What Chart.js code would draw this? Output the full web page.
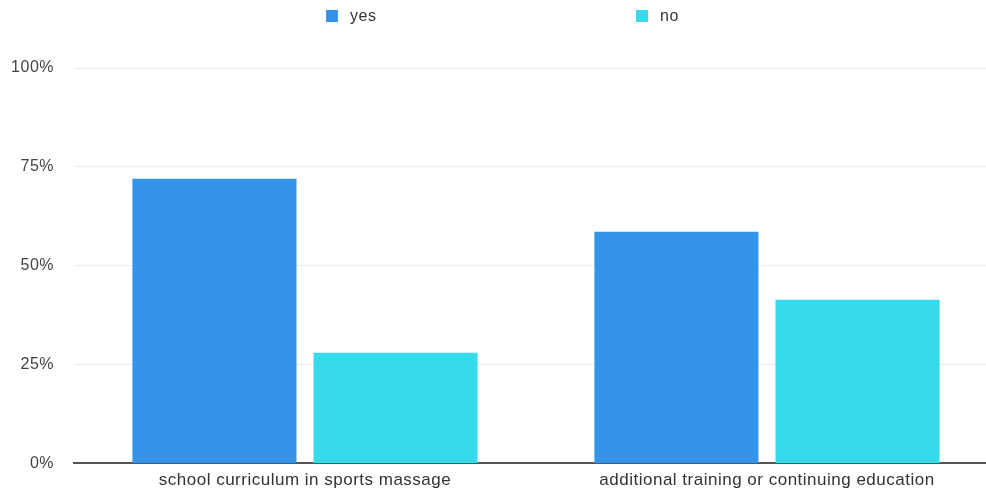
<!DOCTYPE html>
<html>
<head>
<meta charset="utf-8">
<script src="https://cdn.jsdelivr.net/npm/chart.js@4/dist/chart.umd.min.js"></script>
<style>
  html, body { margin: 0; padding: 0; background: #fff; overflow: hidden; }
  #wrap { position: relative; width: 986px; height: 489px; overflow: hidden; }
  canvas { display: block; }
</style>
</head>
<body>
<div id="wrap"><canvas id="c" width="998" height="493" style="width:998px;height:493px"></canvas></div>
<script>
const categories = ["school curriculum in sports massage", "additional training or continuing education"];
const seriesNames = ["yes", "no"];
const yesSeries = [72, 58.6];
const noSeries = [28, 41.4];
const yTicks = [0, 25, 50, 75, 100];
const seriesColors = ["#3594EA", "#36DAEB"];

const FONT = "'Liberation Sans', Arial, Helvetica, sans-serif";

const spacing = {
  id: 'spacing',
  beforeInit(chart) { chart.ctx.letterSpacing = '0.5px'; },
  beforeDraw(chart) { chart.ctx.letterSpacing = '0.5px'; }
};

const customLegend = {
  id: 'customLegend',
  afterDraw(chart) {
    const ctx = chart.ctx;
    const xs = [326, 636];
    ctx.save();
    chart.data.datasets.forEach((ds, i) => {
      ctx.fillStyle = ds.backgroundColor;
      ctx.fillRect(xs[i], 10, 12, 12);
      ctx.fillStyle = '#333';
      ctx.font = '16px ' + FONT;
      ctx.textBaseline = 'middle';
      ctx.textAlign = 'left';
      ctx.fillText(ds.label, xs[i] + 24, 16.5);
    });
    ctx.restore();
  }
};

new Chart(document.getElementById('c'), {
  type: 'bar',
  data: {
    labels: categories,
    datasets: [
      { label: seriesNames[0], data: yesSeries, backgroundColor: seriesColors[0], borderWidth: 0 },
      { label: seriesNames[1], data: noSeries, backgroundColor: seriesColors[1], borderWidth: 0 }
    ]
  },
  options: {
    responsive: false,
    animation: false,
    devicePixelRatio: 1,
    layout: { padding: { top: 68, right: 0, left: 0, bottom: 0 } },
    datasets: { bar: { categoryPercentage: 0.784, barPercentage: 0.906 } },
    plugins: { legend: { display: false }, tooltip: { enabled: false }, title: { display: false } },
    scales: {
      x: {
        grid: { display: false, drawTicks: false },
        border: { display: true, color: '#555', width: 2 },
        ticks: { color: '#333', font: { family: FONT, size: 17 }, padding: 7, maxRotation: 0 },
        afterFit(s) { s.height = 26; }
      },
      y: {
        min: 0, max: 100,
        afterBuildTicks(s) { s.ticks = yTicks.map(v => ({ value: v })); },
        grid: { color: '#ececec', lineWidth: 1, drawTicks: false },
        border: { display: false },
        ticks: { color: '#444', font: { family: FONT, size: 16 }, padding: 20, callback: v => v + '%' },
        afterFit(s) { s.width = 74; }
      }
    }
  },
  plugins: [spacing, customLegend]
});
</script>
</body>
</html>
